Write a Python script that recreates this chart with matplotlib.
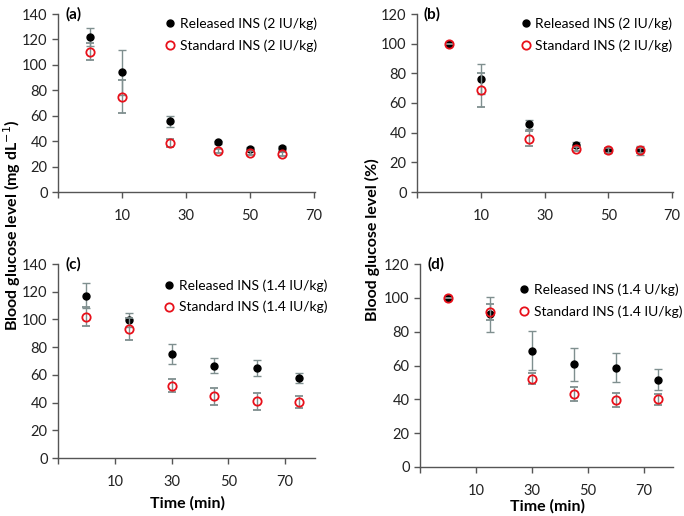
import matplotlib
matplotlib.use("Agg")
import matplotlib.pyplot as plt
import numpy as np

plt.rcParams['font.family'] = ['Lato', 'DejaVu Sans']

# Data
time_ab = [0, 10, 25, 40, 50, 60]
a_rel = [122, 94, 55.5, 39, 34, 34.5]
a_rel_err = [7, 17.7, 4.4, 1.5, 1.5, 1.5]
a_std = [110.5, 75, 38.5, 32.5, 30.6, 30]
a_std_err = [7, 13, 3, 1.5, 1.5, 1.5]

b_rel = [100, 76, 45.7, 32, 28, 28]
b_rel_err = [0, 10, 3, 1.5, 1.5, 3]
b_std = [100, 68.5, 36, 29, 28, 28]
b_std_err = [0, 11.5, 5, 1.5, 1.5, 1.5]

time_cd = [0, 15, 30, 45, 60, 75]
c_rel = [117, 99.6, 75, 66.5, 65, 57.6]
c_rel_err = [9, 5, 7, 5.5, 6, 3.5]
c_std = [102, 93, 52.3, 44.4, 40.8, 40.3]
c_std_err = [7, 8, 5, 6, 6, 4.5]

d_rel = [100, 90.2, 68.7, 60.8, 58.8, 51.7]
d_rel_err = [0, 10.5, 11.5, 9.7, 8.7, 6.4]
d_std = [100, 91.4, 52.3, 43, 39.5, 40]
d_std_err = [0, 4.7, 3.3, 4, 4, 3.3]

xticks = [-10, 10, 30, 50, 70]
xticklabels = ['', '10', '30', '50', '70']

W, H = 684, 516
fig = plt.figure(figsize=(W / 100, H / 100), dpi=100)

def rect(l, r, t, b):
    return [l / W, (H - b) / H, (r - l) / W, (b - t) / H]

panels = [
    dict(rect=rect(58, 315, 14, 192), x=time_ab, rel=a_rel, rel_e=a_rel_err, std=a_std, std_e=a_std_err,
         ylim=(0, 140), xlim=(-10, 70.3), label='(a)',
         leg=('Released INS (2 IU/kg)', 'Standard INS (2 IU/kg)'), legpos=(1.03, 1.01)),
    dict(rect=rect(417, 673, 14, 192), x=time_ab, rel=b_rel, rel_e=b_rel_err, std=b_std, std_e=b_std_err,
         ylim=(0, 120), xlim=(-10, 70.3), label='(b)',
         leg=('Released INS (2 IU/kg)', 'Standard INS (2 IU/kg)'), legpos=(1.02, 1.01)),
    dict(rect=rect(58, 315, 264, 458), x=time_cd, rel=c_rel, rel_e=c_rel_err, std=c_std, std_e=c_std_err,
         ylim=(0, 140), xlim=(-10, 80.5), label='(c)',
         leg=('Released INS (1.4 IU/kg)', 'Standard INS (1.4 IU/kg)'), legpos=(1.07, 0.95)),
    dict(rect=rect(420, 673, 264, 467), x=time_cd, rel=d_rel, rel_e=d_rel_err, std=d_std, std_e=d_std_err,
         ylim=(0, 120), xlim=(-10, 80.5), label='(d)',
         leg=('Released INS (1.4 U/kg)', 'Standard INS (1.4 IU/kg)'), legpos=(1.06, 0.93)),
]

for p in panels:
    ax = fig.add_axes(p['rect'])
    ecol = '#7f8f8f'
    h1 = ax.errorbar(p['x'], p['rel'], yerr=p['rel_e'], fmt='o', color='black', ms=5,
                     ecolor=ecol, elinewidth=1.0, capsize=3, capthick=1.0, zorder=3)
    h2 = ax.errorbar(p['x'], p['std'], yerr=p['std_e'], fmt='o', mfc='none', mec='#e8101a', mew=1.3, ms=6,
                     ecolor=ecol, elinewidth=1.0, capsize=3, capthick=1.0, zorder=4)
    ax.set_xlim(*p['xlim'])
    ax.set_ylim(*p['ylim'])
    ax.set_yticks(np.arange(0, p['ylim'][1] + 1, 20))
    ax.set_xticks(xticks)
    ax.set_xticklabels(xticklabels)
    for s in ['top', 'right']:
        ax.spines[s].set_visible(False)
    for s in ['left', 'bottom']:
        ax.spines[s].set_color('#555555')
        ax.spines[s].set_linewidth(1.0)
    ax.tick_params(axis='both', direction='out', length=4, width=1.0, color='#555555',
                   labelsize=10.5, labelcolor='#222222')
    ax.tick_params(axis='x', pad=8)
    bb = ax.get_position()
    ax.text(7 / (bb.width * W), 1.0, p['label'], transform=ax.transAxes, fontsize=11, fontweight='bold',
            ha='left', va='center')
    ax.legend([h1[0], h2[0]], list(p['leg']), loc='upper right', bbox_to_anchor=p['legpos'],
              frameon=False, fontsize=10, handlelength=0.6, handletextpad=0.4,
              labelspacing=0.65, borderaxespad=0)

fig.text(12 / W, 1 - 225 / H, 'Blood glucose level (mg dL$^{-1}$)', rotation=90, fontsize=11.5,
         fontweight='bold', ha='center', va='center')
fig.text(372 / W, 1 - 240 / H, 'Blood glucose level (%)', rotation=90, fontsize=11.5,
         fontweight='bold', ha='center', va='center')
fig.text(187 / W, 1 - 503 / H, 'Time (min)', fontsize=11.5, fontweight='bold', ha='center', va='center')
fig.text(547 / W, 1 - 506 / H, 'Time (min)', fontsize=11.5, fontweight='bold', ha='center', va='center')

fig.savefig('out.png', dpi=100)
